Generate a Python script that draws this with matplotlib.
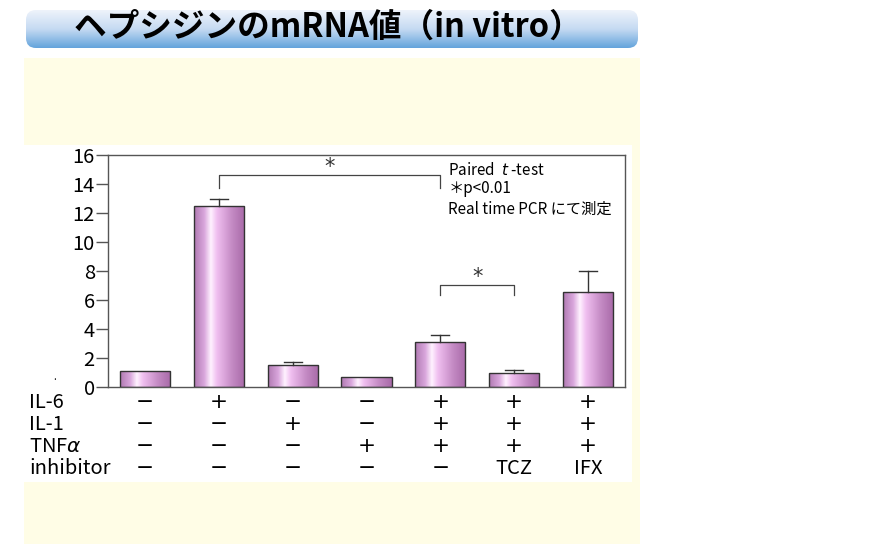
import numpy as np
import matplotlib.pyplot as plt
from matplotlib.patches import Rectangle, FancyBboxPatch
from matplotlib.colors import LinearSegmentedColormap

plt.rcParams['font.family'] = ['Noto Sans CJK JP', 'DejaVu Sans']

# データ
values = [1.08, 12.45, 1.55, 0.70, 3.08, 0.97, 6.55]
err_top = [1.08, 12.95, 1.75, 0.70, 3.57, 1.20, 7.97]
il6 = ['−', '+', '−', '−', '+', '+', '+']
il1 = ['−', '−', '+', '−', '+', '+', '+']
tnf = ['−', '−', '−', '+', '+', '+', '+']
inhib = ['−', '−', '−', '−', '−', 'TCZ', 'IFX']
row_labels = ['IL-6', 'IL-1', 'TNF$\\alpha$', 'inhibitor']
yticks = [0, 2, 4, 6, 8, 10, 12, 14, 16]

fig = plt.figure(figsize=(8.96, 5.44), dpi=100)

# 背景（ピクセル座標）
bg = fig.add_axes([0, 0, 1, 1])
bg.set_xlim(0, 896)
bg.set_ylim(544, 0)
bg.axis('off')
bg.add_patch(Rectangle((24, 58), 616, 486, color='#fffde6', lw=0))
bg.add_patch(Rectangle((24, 145), 608, 337, color='white', lw=0))

# タイトルのバナー
banner = FancyBboxPatch((26, 10), 612, 38, boxstyle='round,pad=0,rounding_size=10',
                        fc='none', ec='none')
bg.add_patch(banner)
bcmap = LinearSegmentedColormap.from_list('b', ['#eef3fb', '#c5daf2', '#64a4dc'])
grad = np.linspace(0, 1, 100).reshape(-1, 1)
im = bg.imshow(grad, cmap=bcmap, extent=(24, 640, 48, 10), aspect='auto', zorder=1)
im.set_clip_path(banner)
bg.text(328, 27, 'ヘプシジンのmRNA値（in vitro）', ha='center', va='center',
        fontsize=23.5, fontweight='bold', color='black', zorder=2)
bg.text(55, 377, '.', fontsize=7, ha='center', va='center')

# グラフ
ax = fig.add_axes([108 / 896, 1 - 387 / 544, 517 / 896, 232 / 544])
ax.set_facecolor('none')
x = np.arange(len(values))
w = 0.68
bars = ax.bar(x, values, width=w, facecolor='none', edgecolor='#333333', lw=1.0, zorder=3)
pcmap = LinearSegmentedColormap.from_list(
    'p', [(0, '#b07ab2'), (0.2, '#d9a6dc'), (0.33, '#fff2ff'), (0.45, '#f0bff0'),
          (0.75, '#c48ac4'), (1, '#a86aa8')])
hgrad = np.linspace(0, 1, 200).reshape(1, -1)
for b in bars:
    bx, by = b.get_x(), b.get_y()
    bw, bh = b.get_width(), b.get_height()
    im = ax.imshow(hgrad, cmap=pcmap, extent=(bx, bx + bw, by, by + bh),
                   aspect='auto', zorder=2)
    im.set_clip_path(b)

# エラーバー
for xi, v, e in zip(x, values, err_top):
    if e > v:
        ax.plot([xi, xi], [v, e], color='#333333', lw=1.0, zorder=4)
        ax.plot([xi - 0.12, xi + 0.12], [e, e], color='#333333', lw=1.0, zorder=4)

# 有意差のブラケット
ax.plot([1, 1, 4, 4], [13.7, 14.65, 14.65, 13.7], color='#444444', lw=0.9)
ax.text(2.5, 15.15, '*', ha='center', va='center', fontsize=15, color='#333333',
        family='DejaVu Sans')
ax.plot([4, 4, 5, 5], [6.35, 7.05, 7.05, 6.35], color='#444444', lw=0.9)
ax.text(4.5, 7.6, '*', ha='center', va='center', fontsize=15, color='#333333',
        family='DejaVu Sans')

ax.text(0.658, 0.935, 'Paired  $t$ -test', transform=ax.transAxes, fontsize=11, va='center')
ax.text(0.658, 0.857, '＊p<0.01', transform=ax.transAxes, fontsize=11, va='center')
ax.text(0.658, 0.767, 'Real time PCR にて測定', transform=ax.transAxes, fontsize=11, va='center')

ax.set_xlim(-0.5, 6.5)
ax.set_ylim(0, 16)
ax.set_yticks(yticks)
ax.set_xticks([])
ax.tick_params(axis='y', direction='out', length=8.5, width=1, color='#555555',
               labelsize=14.5, pad=1)
for s in ax.spines.values():
    s.set_color('#555555')
    s.set_linewidth(1)

# 条件の表
rows = [il6, il1, tnf, inhib]
ys = [402, 424, 446, 468]
for lab, row, yp in zip(row_labels, rows, ys):
    bg.text(29, yp, lab, ha='left', va='center', fontsize=14.5)
    for xi, s in zip(x, row):
        xp = 108 + (xi + 0.5) / 7 * 517
        if s in ('+', '−'):
            bg.text(xp, yp, s, ha='center', va='center', fontsize=15.5,
                    family='DejaVu Sans')
        else:
            bg.text(xp, yp, s, ha='center', va='center', fontsize=14.5)

fig.savefig('out.png', dpi=100)
